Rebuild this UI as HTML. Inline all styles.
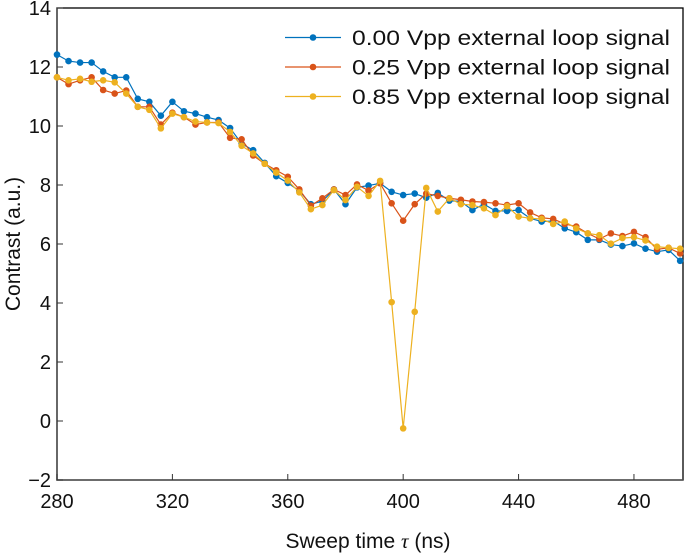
<!DOCTYPE html>
<html><head><meta charset="utf-8"><style>
html,body{margin:0;padding:0;background:#fff;}
svg{display:block;font-family:"Liberation Sans",sans-serif;}
</style></head><body>
<svg id="chart" width="685" height="555"></svg>
<script>
const sweepTimes=[];for(let t=280;t<=496;t+=4)sweepTimes.push(t);
const series0=[12.42,12.2,12.15,12.15,11.85,11.65,11.65,10.92,10.82,10.35,10.82,10.5,10.42,10.3,10.2,9.93,9.4,9.18,8.75,8.3,8.07,7.8,7.35,7.45,
7.85,7.35,7.92,7.98,8.06,7.77,7.66,7.71,7.57,7.73,7.47,7.44,7.15,7.35,7.12,7.12,7.15,6.87,6.76,6.78,6.53,6.4,6.14,6.14,5.98,5.93,6.02,5.84,5.74,5.8,5.43];
const series1=[11.65,11.42,11.55,11.65,11.22,11.1,11.2,10.65,10.65,10.05,10.45,10.3,10.05,10.12,10.12,9.6,9.55,9.0,8.72,8.5,8.28,7.85,7.3,7.55,
7.85,7.66,8.02,7.81,8.06,7.38,6.79,7.35,7.71,7.63,7.55,7.5,7.44,7.42,7.38,7.32,7.38,7.07,6.89,6.85,6.68,6.59,6.36,6.17,6.36,6.27,6.41,6.23,5.82,5.87,5.68];
const series2=[11.65,11.55,11.6,11.5,11.55,11.48,11.1,10.65,10.55,9.92,10.42,10.3,10.15,10.12,10.1,9.8,9.33,9.07,8.72,8.42,8.15,7.75,7.18,7.32,
7.83,7.49,7.94,7.63,8.14,4.03,-0.25,3.7,7.9,7.1,7.55,7.35,7.32,7.21,6.98,7.28,6.93,6.87,6.85,6.68,6.76,6.53,6.36,6.3,6.01,6.2,6.23,6.12,5.91,5.87,5.84];
const seriesNames=["0.00 Vpp external loop signal","0.25 Vpp external loop signal","0.85 Vpp external loop signal"];
const colors=["#0072BD","#D95319","#EDB120"];
const xTicks=[280,320,360,400,440,480];
const yTicks=[-2,0,2,4,6,8,10,12,14];
const L=57,R=683,T=8,B=480,xMin=280,xMax=497,yMin=-2,yMax=14;
const xs=v=>L+(v-xMin)/(xMax-xMin)*(R-L);
const ys=v=>B-(v-yMin)/(yMax-yMin)*(B-T);
const svg=document.getElementById('chart');const NS='http://www.w3.org/2000/svg';
function mk(tag,attrs,parent){const e=document.createElementNS(NS,tag);for(const k in attrs)e.setAttribute(k,attrs[k]);(parent||svg).appendChild(e);return e;}
const frame=mk('rect',{x:L,y:T,width:R-L,height:B-T,fill:'none',stroke:'#000','stroke-width':1.3});


const ax=mk('path',{d:`M${L},${T}V${B}H${R}`,fill:'none',stroke:'#555','stroke-width':1.6});


xTicks.forEach(t=>{const x=xs(t);
 const tk=mk('line',{x1:x,x2:x,y1:B,y2:B-6,stroke:'#333','stroke-width':1});
 
 
 const tx=mk('text',{x:x,y:B+28,'text-anchor':'middle','font-size':20,fill:'#111'});tx.textContent=t;
 
 });
yTicks.forEach(t=>{const y=ys(t);
 const tk=mk('line',{x1:L,x2:L+6,y1:y,y2:y,stroke:'#333','stroke-width':1});
 
 
 const tx=mk('text',{x:L-6,y:y+7,'text-anchor':'end','font-size':20,fill:'#111'});tx.textContent=(t<0?'\u2212'+(-t):t);
 
 });
const xt=mk('text',{x:(L+R)/2-2,y:548,'text-anchor':'middle','font-size':21,fill:'#111'});
xt.innerHTML='Sweep time <tspan font-family="Liberation Serif,serif" font-style="italic">τ</tspan> (ns)';


const yt=mk('text',{x:0,y:0,transform:`translate(20,${(T+B)/2}) rotate(-90)`,'text-anchor':'middle','font-size':21,fill:'#111'});
yt.textContent='Contrast (a.u.)';


[series0,series1,series2].forEach((s,i)=>{
 const g=mk('g',{});
 
 
 const pl=mk('polyline',{points:s.map((v,j)=>xs(sweepTimes[j])+','+ys(v)).join(' '),fill:'none',stroke:colors[i],'stroke-width':1.2},g);
 
 
 s.forEach((v,j)=>{const c=mk('circle',{cx:xs(sweepTimes[j]),cy:ys(v),r:3.3,fill:colors[i]},g);
  
  });
});
const lg=mk('g',{});


mk('rect',{x:275,y:18,width:404,height:100,fill:'#fff'},lg);
seriesNames.forEach((n,i)=>{const y=37.5+i*29.5;
 const ln=mk('line',{x1:285,x2:341,y1:y,y2:y,stroke:colors[i],'stroke-width':1.2},lg);
 
 
 const c=mk('circle',{cx:313,cy:y,r:3.3,fill:colors[i]},lg);
 
 
 const t=mk('text',{x:352,y:y+7.5,'font-size':21,fill:'#111',textLength:318,lengthAdjust:'spacingAndGlyphs'},lg);t.textContent=n;
 
 });
</script>
</body></html>
